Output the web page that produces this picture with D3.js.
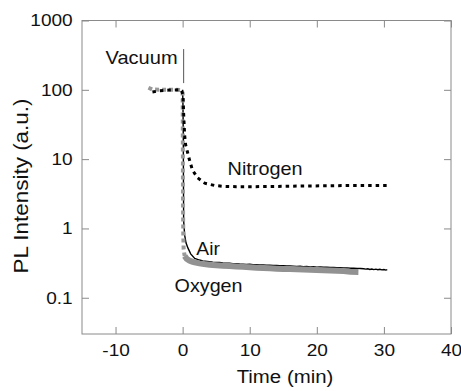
<!DOCTYPE html>
<html>
<head>
<meta charset="utf-8">
<script src="https://cdn.jsdelivr.net/npm/d3@7"></script>
<style>
  html, body { margin: 0; padding: 0; background: #fff; }
  svg { display: block; font-family: "Liberation Sans", Arial, sans-serif; }
</style>
</head>
<body>
<svg id="chart" width="461" height="391"></svg>
<script>
// ---------------- data ----------------
const xTickValues = [-10, 0, 10, 20, 30, 40];
const xTickLabels = ["-10", "0", "10", "20", "30", "40"];
const yTickValues = [0.1, 1, 10, 100, 1000];
const yTickLabels = ["0.1", "1", "10", "100", "1000"];

// Nitrogen: black dotted
const nitrogenTime = [-4.5, -3.5, -2, -0.5, -0.2, 0.05, 0.15, 0.3, 0.45, 0.65, 0.95, 1.45, 2.2, 3.3, 4.8, 6, 8, 10, 12, 15, 18, 21, 24, 27, 30.5];
const nitrogenValue = [93, 97, 99, 100, 100, 85, 45, 22, 16, 13.5, 10.3, 7.0, 5.4, 4.5, 4.16, 4.05, 4.0, 4.0, 4.02, 4.05, 4.1, 4.12, 4.15, 4.15, 4.18];

// Air: black solid
const airTime = [0, 0.05, 0.1, 0.12, 0.15, 0.3, 0.5, 0.8, 1.2, 1.8, 2.5, 3.0,
  4.0, 4.5, 5.0, 5.5, 6.0, 6.5, 7.0, 7.5, 8.0, 8.5, 9.0, 9.5, 10.0, 10.5, 11.0, 11.5, 12.0, 12.5, 13.0, 13.5,
  14.0, 14.5, 15.0, 15.5, 16.0, 16.5, 17.0, 17.5, 18.0, 18.5, 19.0, 19.5, 20.0, 20.5, 21.0, 21.5, 22.0, 22.5,
  23.0, 23.5, 24.0, 24.5, 25.0, 25.5, 26.0, 26.5, 27.0, 27.3, 27.6, 27.9, 28.2, 28.5, 28.8, 29.1, 29.4, 29.7,
  30.0, 30.3, 30.5];
const airValue = [100, 60, 20, 5, 1.3, 0.8, 0.62, 0.52, 0.43, 0.37, 0.35, 0.34,
  0.330, 0.326, 0.324, 0.322, 0.318, 0.315, 0.314, 0.310, 0.311, 0.307, 0.306, 0.303, 0.304, 0.300, 0.301, 0.297, 0.298, 0.295, 0.296, 0.292,
  0.293, 0.290, 0.291, 0.288, 0.287, 0.286, 0.284, 0.285, 0.281, 0.282, 0.279, 0.280, 0.277, 0.278, 0.275, 0.276, 0.273, 0.274,
  0.271, 0.272, 0.269, 0.270, 0.267, 0.268, 0.265, 0.264, 0.262, 0.259, 0.262, 0.256, 0.260, 0.255, 0.259, 0.254, 0.258, 0.253,
  0.256, 0.251, 0.254];

// Oxygen: grey, step part (sparse squares) and dense tail
const oxygenStepTime = [-5.1, -4.5, -3, -1, -0.2, 0, 0.02, 0.04, 0.06, 0.1, 0.15, 0.3];
const oxygenStepValue = [107, 101, 100, 100, 99, 90, 40, 10, 2, 0.8, 0.5, 0.40];
const oxygenTailTime = [0.3, 0.6, 1.0, 1.4, 1.8, 2.5, 3.2, 4, 5, 6, 7, 8, 9, 10, 11, 12, 13, 14, 15, 16, 17, 18, 19, 20, 21, 22, 23, 24, 25, 26.2];
const oxygenTailValue = [0.40, 0.365, 0.345, 0.333, 0.324, 0.313, 0.306, 0.30, 0.295, 0.29, 0.287, 0.283, 0.279, 0.275, 0.271, 0.268, 0.266, 0.263, 0.261, 0.259, 0.258, 0.256, 0.254, 0.252, 0.25, 0.248, 0.245, 0.243, 0.238, 0.236];

// ---------------- layout ----------------
const svg = d3.select("#chart");
const L = 82, R = 451, T = 20.5, B = 334;
const x = d3.scaleLinear().domain([-15, 40]).range([L, R]);
const y = d3.scaleLog().domain([0.03, 1000]).range([B, T]);
const frameColor = "#8a8a8a";

const zip = (a, b) => a.map((v, i) => [v, b[i]]);
const line = d3.line().x(d => x(d[0])).y(d => y(d[1]));

// axes (inward ticks on all four sides)
const xAxis = d3.axisBottom(x).tickValues(xTickValues)
  .tickFormat((d, i) => xTickLabels[i]).tickSizeInner(-7).tickSizeOuter(0).tickPadding(10);
const yAxis = d3.axisLeft(y).tickValues(yTickValues)
  .tickFormat((d, i) => yTickLabels[i]).tickSizeInner(-7).tickSizeOuter(0).tickPadding(9.3);
const xAxisTop = d3.axisTop(x).tickValues(xTickValues).tickFormat("").tickSizeInner(-7).tickSizeOuter(0);
const yAxisRight = d3.axisRight(y).tickValues(yTickValues).tickFormat("").tickSizeInner(-7).tickSizeOuter(0);

svg.append("g").attr("transform", `translate(0,${B})`).call(xAxis);
svg.append("g").attr("transform", `translate(${L},0)`).call(yAxis);
svg.append("g").attr("transform", `translate(0,${T})`).call(xAxisTop);
svg.append("g").attr("transform", `translate(${R},0)`).call(yAxisRight);
svg.selectAll(".domain").remove();
svg.selectAll(".tick line").attr("stroke", frameColor).attr("stroke-width", 1);
svg.selectAll(".tick text").attr("fill", "#111").style("font-size", "17px")
  .style("font-family", '"Liberation Sans", Arial, sans-serif');

svg.append("rect").attr("x", L).attr("y", T).attr("width", R - L).attr("height", B - T)
  .attr("fill", "none").attr("stroke", frameColor).attr("stroke-width", 1);

// ---------------- series ----------------
svg.append("path").datum(zip(airTime, airValue)).attr("d", line)
  .attr("fill", "none").attr("stroke", "#000").attr("stroke-width", 1.4);
svg.append("path").datum(zip(oxygenTailTime, oxygenTailValue)).attr("d", line)
  .attr("fill", "none").attr("stroke", "#929292").attr("stroke-width", 6);
svg.append("path").datum(zip(oxygenStepTime, oxygenStepValue)).attr("d", line)
  .attr("fill", "none").attr("stroke", "#999").attr("stroke-width", 4).attr("stroke-dasharray", "4,3");
svg.append("path").datum(zip(nitrogenTime, nitrogenValue)).attr("d", line)
  .attr("fill", "none").attr("stroke", "#000").attr("stroke-width", 3).attr("stroke-dasharray", "3.5,4");

// Vacuum marker line
svg.append("line").attr("x1", x(0.15)).attr("x2", x(0.15)).attr("y1", y(387)).attr("y2", y(125))
  .attr("stroke", "#555").attr("stroke-width", 1);

// ---------------- labels ----------------
function label(txt, px, py, size, anchor, width) {
  return svg.append("text").attr("x", px).attr("y", py).attr("text-anchor", anchor)
    .attr("fill", "#111").style("font-size", size + "px").text(txt)
    .attr("textLength", width).attr("lengthAdjust", "spacingAndGlyphs");
}
label("Vacuum", x(-0.75), y(235), 18.5, "end", 72);
label("Nitrogen", x(6.7), y(5.93), 18.5, "start", 75);
label("Air", x(2.05), y(0.412), 18.5, "start", 23.5);
label("Oxygen", x(-1.2), y(0.1214), 18.5, "start", 68);
label("Time (min)", 285, 383.3, 18, "middle", 96.7);
svg.append("text").attr("transform", "translate(28.3,186) rotate(-90)").attr("text-anchor", "middle")
  .attr("fill", "#111").style("font-size", "20px").text("PL Intensity (a.u.)")
  .attr("textLength", 175).attr("lengthAdjust", "spacingAndGlyphs");

// stretch tick labels slightly to match the reference's wide lettering
svg.selectAll(".tick text").each(function () {
  const w = this.getComputedTextLength();
  if (w > 0) { this.setAttribute("textLength", w * 1.12); this.setAttribute("lengthAdjust", "spacingAndGlyphs"); }
});
</script>
</body>
</html>
